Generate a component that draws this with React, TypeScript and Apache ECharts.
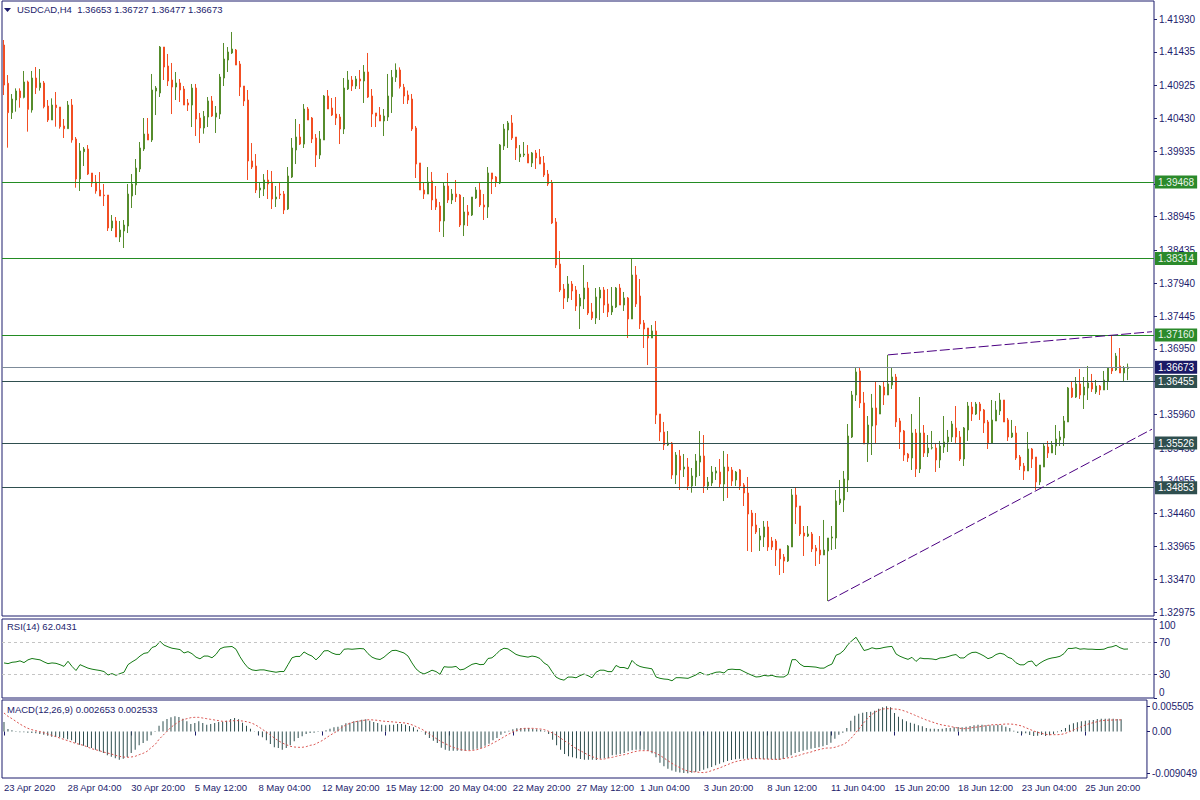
import React, { useEffect, useRef } from "react";
import * as echarts from "echarts";

// ---------- DATA (H4 bars from 23 Apr 2020 12:00) ----------
const opens = [
  1.41537,1.40959,1.40516,1.40707,1.40843,1.40747,1.40979,1.40556,1.41039,1.40893,
  1.40964,1.40616,1.40405,1.40631,1.40601,1.40314,1.40274,1.40631,1.40118,1.39514,
  1.39927,1.39967,1.39604,1.39468,1.39348,1.39272,1.39272,1.38774,1.38880,1.38638,
  1.38729,1.38804,1.39257,1.39423,1.39665,1.39967,1.40193,1.40103,1.40843,1.40813,
  1.41507,1.41220,1.41009,1.40903,1.40964,1.40873,1.40662,1.40631,1.40888,1.40435,
  1.40284,1.40450,1.40692,1.40450,1.40495,1.41039,1.41311,1.41417,1.41462,1.41250,
  1.40918,1.40707,1.39786,1.39710,1.39348,1.39363,1.39499,1.39468,1.39212,1.39287,
  1.39287,1.39061,1.39544,1.39952,1.40148,1.40042,1.40571,1.40435,1.40133,1.39876,
  1.40103,1.40767,1.40586,1.40495,1.40450,1.40269,1.40873,1.41009,1.40918,1.41024,
  1.40994,1.41130,1.40767,1.40511,1.40480,1.40390,1.40450,1.40757,1.41050,1.41160,
  1.40900,1.40782,1.40722,1.40284,1.39756,1.39348,1.39287,1.39484,1.39212,1.39106,
  1.38880,1.39408,1.39197,1.39287,1.39272,1.38819,1.39016,1.38970,1.39227,1.39348,
  1.39121,1.39091,1.39605,1.39544,1.39454,1.40012,1.40254,1.40360,1.40148,1.39846,
  1.39876,1.39891,1.39756,1.39907,1.39846,1.39756,1.39589,1.39454,1.38865,1.38230,
  1.37853,1.37717,1.37928,1.37838,1.37596,1.37702,1.37868,1.37506,1.37415,1.37717,
  1.37838,1.37627,1.37506,1.37581,1.37868,1.37611,1.37717,1.37400,1.38064,1.37747,
  1.37340,1.37264,1.37113,1.37219,1.35965,1.35693,1.35497,1.35527,1.35044,1.35331,
  1.35135,1.35165,1.34878,1.35014,1.35240,1.35331,1.34878,1.34923,1.35074,1.35089,
  1.34908,1.35165,1.35120,1.34969,1.35120,1.34893,1.34772,1.34470,1.34289,1.34063,
  1.34108,1.34259,1.34048,1.34048,1.33927,1.33806,1.33746,1.33957,1.34742,1.34576,
  1.34168,1.34123,1.34153,1.33942,1.33912,1.33836,1.33897,1.34093,1.34093,1.34621,
  1.34667,1.34969,1.35618,1.36252,1.36615,1.36132,1.35512,1.35784,1.36056,1.35965,
  1.36373,1.36252,1.36403,1.36524,1.35860,1.35709,1.35361,1.35301,1.35678,1.35135,
  1.35678,1.35377,1.35452,1.35452,1.35271,1.35467,1.35543,1.35618,1.35754,1.35618,
  1.35286,1.35724,1.36071,1.35965,1.36116,1.36026,1.35845,1.35528,1.35860,1.36011,
  1.36177,1.35875,1.35618,1.35678,1.35316,1.35180,1.35105,1.35437,1.35316,1.34939,
  1.35165,1.35467,1.35377,1.35482,1.35573,1.35603,1.35845,1.36358,1.36222,1.36419,
  1.36252,1.36358,1.36434,1.36298,1.36388,1.36328,1.36464,1.36660,1.36630,1.36690,
  1.36585,1.36653,
];
const highs = [
  1.41613,1.41084,1.40797,1.40883,1.40883,1.41145,1.40999,1.41145,1.41205,1.41175,
  1.40994,1.40707,1.40732,1.40828,1.40601,1.40420,1.40692,1.40722,1.40148,1.40057,
  1.39997,1.40027,1.39604,1.39574,1.39619,1.39438,1.39272,1.38970,1.38940,1.38880,
  1.38895,1.39438,1.39589,1.39816,1.40073,1.40435,1.40435,1.41100,1.40918,1.41522,
  1.41507,1.41402,1.41266,1.41130,1.41024,1.40918,1.40722,1.40949,1.40949,1.40511,
  1.40541,1.40752,1.40767,1.40616,1.41100,1.41568,1.41507,1.41734,1.41477,1.41296,
  1.40918,1.40858,1.40057,1.39891,1.39468,1.39589,1.39650,1.39635,1.39408,1.39453,
  1.39333,1.39695,1.40133,1.40420,1.40345,1.40646,1.40601,1.40450,1.40193,1.40239,
  1.40782,1.40858,1.40737,1.40752,1.40495,1.41039,1.41145,1.41069,1.41069,1.41160,
  1.41235,1.41417,1.40873,1.40511,1.40601,1.40571,1.41100,1.41160,1.41260,1.41200,
  1.40950,1.40850,1.40798,1.40314,1.39756,1.39454,1.39695,1.39620,1.39408,1.39167,
  1.39454,1.39605,1.39363,1.39499,1.39287,1.39242,1.39121,1.39242,1.39393,1.39469,
  1.39287,1.39695,1.39605,1.39559,1.40042,1.40345,1.40390,1.40480,1.40148,1.40027,
  1.40073,1.40027,1.39922,1.39952,1.39967,1.39861,1.39650,1.39499,1.38925,1.38427,
  1.37928,1.38049,1.37973,1.37898,1.37778,1.38215,1.37959,1.37642,1.37868,1.37883,
  1.37883,1.37853,1.37883,1.37883,1.37929,1.37808,1.37732,1.38321,1.38200,1.38004,
  1.37385,1.37264,1.37309,1.37370,1.35965,1.35845,1.35708,1.35542,1.35391,1.35422,
  1.35361,1.35301,1.35150,1.35361,1.35708,1.35648,1.35014,1.35180,1.35165,1.35286,
  1.35407,1.35361,1.35165,1.35105,1.35135,1.34923,1.35014,1.34516,1.34470,1.34244,
  1.34350,1.34350,1.34108,1.34078,1.33927,1.33851,1.33987,1.34833,1.34863,1.34576,
  1.34274,1.34274,1.34183,1.33987,1.34123,1.34365,1.34093,1.34274,1.34818,1.34969,
  1.35105,1.35814,1.36313,1.36675,1.36660,1.36298,1.35935,1.36268,1.36449,1.36403,
  1.36449,1.36858,1.36675,1.36570,1.35905,1.35724,1.35377,1.35965,1.35739,1.36222,
  1.35799,1.35648,1.35709,1.35528,1.35558,1.35935,1.35724,1.35860,1.36086,1.35709,
  1.35769,1.36147,1.36147,1.36147,1.36147,1.36041,1.35875,1.36177,1.36162,1.36283,
  1.36177,1.35905,1.35875,1.35784,1.35346,1.35226,1.35694,1.35452,1.35316,1.35195,
  1.35528,1.35558,1.35558,1.35799,1.35709,1.35935,1.36373,1.36449,1.36524,1.36645,
  1.36524,1.36690,1.36570,1.36479,1.36403,1.36615,1.36675,1.37158,1.36887,1.36962,
  1.36690,1.36727,
];
const lows = [
  1.40782,1.39987,1.40420,1.40531,1.40591,1.40732,1.40229,1.40516,1.40797,1.40848,
  1.40581,1.40375,1.40405,1.40304,1.40274,1.40133,1.40274,1.40062,1.39383,1.39333,
  1.39710,1.39574,1.39393,1.39292,1.39257,1.39106,1.38729,1.38729,1.38638,1.38562,
  1.38472,1.38698,1.39076,1.39272,1.39619,1.39937,1.40103,1.40073,1.40480,1.40752,
  1.41009,1.40918,1.40495,1.40707,1.40677,1.40631,1.40541,1.40299,1.40163,1.40057,
  1.40198,1.40299,1.40450,1.40209,1.40420,1.40918,1.41130,1.41402,1.41235,1.40767,
  1.40616,1.39499,1.39665,1.39302,1.39227,1.39257,1.39212,1.39061,1.39091,1.39212,
  1.38985,1.39046,1.39529,1.39740,1.40027,1.39982,1.40405,1.40057,1.39695,1.39816,
  1.40103,1.40571,1.40465,1.40329,1.40042,1.40193,1.40858,1.40843,1.40873,1.40873,
  1.40662,1.40737,1.40299,1.40299,1.40390,1.40163,1.40390,1.40511,1.40980,1.40880,
  1.40647,1.40647,1.40239,1.39529,1.39348,1.39212,1.39287,1.39046,1.39046,1.38714,
  1.38638,1.39152,1.39136,1.39167,1.38789,1.38653,1.38804,1.38955,1.39212,1.39091,
  1.38895,1.38925,1.39287,1.39393,1.39438,1.39952,1.39982,1.40103,1.39801,1.39771,
  1.39846,1.39756,1.39695,1.39665,1.39740,1.39544,1.39408,1.38834,1.38170,1.37808,
  1.37551,1.37656,1.37687,1.37521,1.37249,1.37551,1.37460,1.37385,1.37324,1.37385,
  1.37491,1.37430,1.37460,1.37566,1.37611,1.37521,1.37113,1.37400,1.37581,1.37249,
  1.36962,1.36705,1.37113,1.35814,1.35558,1.35422,1.35482,1.34984,1.34908,1.34818,
  1.35014,1.34818,1.34777,1.34878,1.35029,1.34772,1.34818,1.34878,1.34969,1.34863,
  1.34651,1.34697,1.34878,1.34878,1.34818,1.34576,1.33897,1.33881,1.34153,1.33897,
  1.33957,1.33897,1.33912,1.33670,1.33534,1.33564,1.33730,1.33957,1.34304,1.34123,
  1.33821,1.34108,1.33881,1.33670,1.33700,1.33836,1.33141,1.33912,1.33927,1.34591,
  1.34485,1.34787,1.35603,1.36162,1.36056,1.35512,1.35241,1.35346,1.35528,1.35965,
  1.36101,1.36252,1.36343,1.35769,1.35437,1.35256,1.35241,1.35120,1.35014,1.35074,
  1.35316,1.35316,1.35430,1.35090,1.35150,1.35377,1.35392,1.35543,1.35528,1.35256,
  1.35180,1.35558,1.35860,1.35950,1.35875,1.35678,1.35437,1.35528,1.35860,1.35950,
  1.35845,1.35558,1.35603,1.35271,1.35120,1.34969,1.35105,1.35150,1.34818,1.34893,
  1.35165,1.35301,1.35377,1.35346,1.35482,1.35482,1.35845,1.36207,1.36207,1.36192,
  1.36041,1.36177,1.36298,1.36268,1.36252,1.36328,1.36328,1.36570,1.36615,1.36585,
  1.36449,1.36477,
];
const closes = [
  1.40933,1.40516,1.40722,1.40843,1.40742,1.40979,1.40566,1.41039,1.40893,1.40964,
  1.40606,1.40405,1.40631,1.40591,1.40304,1.40274,1.40631,1.40103,1.39514,1.39937,
  1.39967,1.39589,1.39453,1.39333,1.39257,1.39262,1.38774,1.38880,1.38638,1.38744,
  1.38819,1.39287,1.39438,1.39680,1.39982,1.40193,1.40103,1.40858,1.40888,1.41507,
  1.41205,1.40994,1.40903,1.40964,1.40858,1.40631,1.40631,1.40888,1.40420,1.40284,
  1.40460,1.40692,1.40465,1.40511,1.41054,1.41326,1.41432,1.41477,1.41235,1.40903,
  1.40692,1.39786,1.39695,1.39348,1.39378,1.39499,1.39438,1.39212,1.39242,1.39272,
  1.39046,1.39559,1.39982,1.40148,1.40042,1.40571,1.40405,1.40118,1.39876,1.40118,
  1.40767,1.40571,1.40480,1.40435,1.40269,1.40888,1.41009,1.40918,1.41024,1.40994,
  1.41130,1.40752,1.40495,1.40465,1.40390,1.40465,1.40767,1.41050,1.41160,1.40910,
  1.40767,1.40707,1.40269,1.39740,1.39348,1.39287,1.39469,1.39197,1.39091,1.38880,
  1.39408,1.39197,1.39287,1.39242,1.38819,1.39016,1.38970,1.39242,1.39348,1.39121,
  1.39091,1.39605,1.39514,1.39469,1.40027,1.40269,1.40360,1.40133,1.39982,1.39891,
  1.39891,1.39756,1.39907,1.39831,1.39740,1.39574,1.39438,1.38850,1.38215,1.37838,
  1.37717,1.37928,1.37823,1.37596,1.37717,1.37868,1.37491,1.37415,1.37732,1.37838,
  1.37611,1.37506,1.37596,1.37868,1.37611,1.37717,1.37400,1.38064,1.37627,1.37324,
  1.37249,1.37113,1.37219,1.35950,1.35693,1.35497,1.35527,1.35044,1.35346,1.35120,
  1.35165,1.34878,1.35029,1.35256,1.35331,1.34878,1.34938,1.35089,1.35105,1.34908,
  1.35165,1.35105,1.34953,1.35089,1.34878,1.34772,1.34455,1.34274,1.34183,1.34123,
  1.34259,1.33957,1.33957,1.33912,1.33776,1.33746,1.33972,1.34742,1.34561,1.34153,
  1.34123,1.34153,1.33927,1.33897,1.33836,1.33912,1.34093,1.34108,1.34652,1.34682,
  1.34984,1.35633,1.36252,1.36600,1.36132,1.35512,1.35799,1.36056,1.35799,1.36388,
  1.36252,1.36419,1.36524,1.35845,1.35694,1.35346,1.35301,1.35678,1.35135,1.35678,
  1.35377,1.35452,1.35457,1.35271,1.35482,1.35543,1.35618,1.35814,1.35618,1.35286,
  1.35754,1.36086,1.35965,1.36116,1.36011,1.35830,1.35528,1.35875,1.36026,1.36177,
  1.35845,1.35618,1.35678,1.35301,1.35180,1.35105,1.35437,1.35286,1.34939,1.35195,
  1.35482,1.35377,1.35497,1.35588,1.35618,1.35860,1.36358,1.36222,1.36419,1.36252,
  1.36373,1.36434,1.36343,1.36388,1.36328,1.36479,1.36660,1.36615,1.36841,1.36585,
  1.36660,1.36673,
];

const rsiValues = [
  44.4,43.5,45.2,45.7,47.0,44.8,48.3,50.0,49.1,48.3,
  45.7,43.5,44.4,43.9,42.2,40.0,46.5,40.0,34.8,42.2,
  40.0,37.8,36.5,35.6,34.8,33.5,29.1,30.9,28.7,30.9,
  32.6,42.2,45.7,48.7,53.1,56.5,57.4,63.9,65.7,71.7,
  67.0,64.8,63.0,62.2,61.3,57.0,58.7,56.1,51.7,49.6,
  53.1,53.1,50.9,55.2,62.2,64.3,64.8,65.2,61.7,52.2,
  44.4,38.3,35.6,34.8,35.6,35.6,34.4,33.5,32.6,33.5,
  33.5,42.2,50.9,52.6,52.6,58.3,55.2,53.1,48.3,53.1,
  59.6,60.0,57.0,55.2,55.2,61.7,62.2,61.7,62.2,62.6,
  62.2,56.1,51.7,49.6,48.7,51.7,56.1,60.0,60.4,58.7,
  57.0,53.1,44.4,36.9,32.6,30.4,32.6,35.2,33.5,30.0,
  39.6,39.1,39.1,40.0,35.6,36.5,39.6,42.6,43.9,42.2,
  42.6,50.0,50.9,55.2,60.4,63.0,62.2,58.7,55.2,53.5,
  52.6,51.7,53.1,52.2,50.0,44.4,41.3,33.5,26.5,23.9,
  22.6,26.5,26.5,25.6,28.3,30.4,28.3,25.6,32.6,35.2,
  35.2,33.4,33.4,41.2,38.6,38.6,36.9,47.6,42.5,39.9,
  38.6,37.8,36.9,26.6,24.9,24.0,23.6,21.8,25.7,25.7,
  25.3,24.9,27.0,29.2,32.6,30.0,29.2,30.9,32.6,33.0,
  31.7,36.0,36.5,36.0,36.0,33.4,30.9,28.7,26.6,27.0,
  28.7,27.9,28.7,27.0,26.6,26.6,30.0,48.5,48.5,42.9,
  39.9,39.9,39.5,39.1,37.8,37.8,40.8,43.0,54.1,56.2,
  60.5,67.8,72.6,76.9,68.7,60.1,61.4,63.6,62.3,62.7,
  64.0,64.8,65.3,55.8,52.8,50.7,48.9,51.5,46.3,50.7,
  49.8,49.8,49.4,48.5,50.7,51.1,52.4,54.1,55.0,50.7,
  50.7,55.0,57.6,58.0,55.8,53.2,49.8,51.5,55.0,56.7,
  55.4,51.5,49.8,44.6,42.0,42.0,45.9,46.8,40.3,44.2,
  47.2,49.4,50.7,51.5,52.8,56.2,62.7,62.7,63.6,61.8,
  62.3,61.8,61.8,61.4,61.4,61.8,64.0,64.8,66.6,63.6,
  61.8,62.0431,
];

const macdHist = [
  0.00207,0.00054,0.00025,0.00011,-0.00018,-0.00018,-0.00025,-0.00033,-0.00040,-0.00054,
  -0.00069,-0.00091,-0.00112,-0.00120,-0.00127,-0.00149,-0.00170,-0.00192,-0.00243,-0.00286,
  -0.00308,-0.00337,-0.00359,-0.00395,-0.00431,-0.00467,-0.00518,-0.00547,-0.00583,-0.00612,
  -0.00591,-0.00554,-0.00467,-0.00395,-0.00301,-0.00250,-0.00199,-0.00083,0.00011,0.00127,
  0.00221,0.00272,0.00308,0.00330,0.00315,0.00279,0.00221,0.00163,0.00185,0.00221,
  0.00185,0.00149,0.00163,0.00185,0.00207,0.00214,0.00236,0.00272,0.00293,0.00264,
  0.00192,0.00127,0.00062,0.00004,-0.00069,-0.00127,-0.00192,-0.00272,-0.00344,-0.00359,
  -0.00395,-0.00359,-0.00301,-0.00214,-0.00141,-0.00105,-0.00054,-0.00033,-0.00025,-0.00011,
  0.00004,0.00025,0.00062,0.00091,0.00105,0.00134,0.00178,0.00192,0.00221,0.00236,
  0.00257,0.00264,0.00236,0.00207,0.00185,0.00149,0.00134,0.00149,0.00149,0.00163,
  0.00163,0.00149,0.00120,0.00091,0.00040,0.00004,-0.00069,-0.00141,-0.00199,-0.00250,
  -0.00351,-0.00395,-0.00417,-0.00417,-0.00417,-0.00417,-0.00417,-0.00402,-0.00395,-0.00373,
  -0.00359,-0.00308,-0.00264,-0.00192,-0.00141,-0.00069,-0.00025,0.00018,0.00047,0.00069,
  0.00076,0.00076,0.00076,0.00062,0.00047,0.00040,0.00018,-0.00054,-0.00178,-0.00301,
  -0.00395,-0.00489,-0.00540,-0.00562,-0.00583,-0.00598,-0.00612,-0.00612,-0.00612,-0.00620,
  -0.00591,-0.00583,-0.00576,-0.00518,-0.00504,-0.00489,-0.00467,-0.00431,-0.00409,-0.00395,
  -0.00395,-0.00395,-0.00417,-0.00475,-0.00562,-0.00678,-0.00757,-0.00808,-0.00850,-0.00875,
  -0.00890,-0.00900,-0.00905,-0.00895,-0.00880,-0.00859,-0.00830,-0.00801,-0.00772,-0.00736,
  -0.00699,-0.00670,-0.00641,-0.00620,-0.00605,-0.00591,-0.00591,-0.00591,-0.00591,-0.00598,
  -0.00598,-0.00605,-0.00605,-0.00605,-0.00612,-0.00620,-0.00598,-0.00562,-0.00518,-0.00467,
  -0.00446,-0.00417,-0.00395,-0.00373,-0.00359,-0.00344,-0.00322,-0.00293,-0.00243,-0.00156,
  -0.00069,-0.00025,0.00076,0.00236,0.00344,0.00388,0.00409,0.00424,0.00431,0.00453,
  0.00496,0.00530,0.00550,0.00525,0.00402,0.00322,0.00264,0.00221,0.00192,0.00170,
  0.00134,0.00112,0.00076,0.00062,0.00062,0.00054,0.00062,0.00076,0.00076,0.00091,
  0.00098,0.00091,0.00105,0.00120,0.00134,0.00149,0.00149,0.00134,0.00134,0.00134,
  0.00149,0.00134,0.00105,0.00076,0.00018,-0.00033,-0.00047,-0.00040,-0.00076,-0.00098,
  -0.00091,-0.00076,-0.00098,-0.00083,-0.00054,-0.00018,0.00033,0.00076,0.00149,0.00178,
  0.00199,0.00221,0.00236,0.00243,0.00250,0.00272,0.00279,0.00279,0.00285,0.00280,
  0.00272,0.002653,
];

const macdSignal = [
  0.00402,0.00330,0.00279,0.00221,0.00163,0.00112,0.00069,0.00040,0.00018,-0.00004,
  -0.00025,-0.00054,-0.00083,-0.00112,-0.00141,-0.00170,-0.00199,-0.00228,-0.00257,-0.00279,
  -0.00301,-0.00337,-0.00373,-0.00395,-0.00417,-0.00446,-0.00467,-0.00489,-0.00518,-0.00540,
  -0.00554,-0.00562,-0.00554,-0.00540,-0.00504,-0.00475,-0.00431,-0.00351,-0.00286,-0.00170,
  -0.00083,0.00004,0.00091,0.00156,0.00214,0.00257,0.00279,0.00301,0.00308,0.00308,
  0.00293,0.00279,0.00264,0.00250,0.00236,0.00221,0.00221,0.00228,0.00236,0.00236,
  0.00228,0.00214,0.00192,0.00156,0.00105,0.00047,-0.00011,-0.00076,-0.00141,-0.00199,
  -0.00250,-0.00286,-0.00322,-0.00337,-0.00344,-0.00344,-0.00330,-0.00301,-0.00286,-0.00243,
  -0.00199,-0.00141,-0.00083,-0.00033,0.00018,0.00091,0.00141,0.00178,0.00207,0.00221,
  0.00236,0.00250,0.00257,0.00250,0.00243,0.00228,0.00221,0.00214,0.00207,0.00199,
  0.00192,0.00185,0.00163,0.00134,0.00091,0.00054,0.00004,-0.00054,-0.00112,-0.00170,
  -0.00221,-0.00264,-0.00308,-0.00344,-0.00373,-0.00395,-0.00409,-0.00417,-0.00409,-0.00395,
  -0.00366,-0.00337,-0.00301,-0.00250,-0.00207,-0.00156,-0.00105,-0.00054,-0.00011,0.00025,
  0.00054,0.00069,0.00069,0.00069,0.00062,0.00054,0.00040,0.00004,-0.00033,-0.00083,
  -0.00141,-0.00206,-0.00250,-0.00322,-0.00373,-0.00417,-0.00467,-0.00511,-0.00547,-0.00583,
  -0.00605,-0.00598,-0.00576,-0.00562,-0.00540,-0.00518,-0.00504,-0.00482,-0.00453,-0.00431,
  -0.00417,-0.00417,-0.00417,-0.00438,-0.00475,-0.00518,-0.00576,-0.00634,-0.00692,-0.00743,
  -0.00786,-0.00830,-0.00859,-0.00873,-0.00880,-0.00888,-0.00895,-0.00880,-0.00851,-0.00822,
  -0.00793,-0.00757,-0.00721,-0.00685,-0.00656,-0.00634,-0.00620,-0.00605,-0.00591,-0.00591,
  -0.00591,-0.00598,-0.00598,-0.00605,-0.00605,-0.00605,-0.00591,-0.00576,-0.00562,-0.00540,
  -0.00518,-0.00489,-0.00467,-0.00446,-0.00417,-0.00395,-0.00373,-0.00359,-0.00359,-0.00344,
  -0.00315,-0.00286,-0.00236,-0.00156,-0.00054,0.00054,0.00163,0.00264,0.00351,0.00417,
  0.00460,0.00489,0.00496,0.00496,0.00489,0.00482,0.00460,0.00431,0.00395,0.00359,
  0.00322,0.00286,0.00250,0.00221,0.00192,0.00163,0.00141,0.00127,0.00112,0.00091,
  0.00076,0.00062,0.00062,0.00076,0.00091,0.00098,0.00112,0.00127,0.00141,0.00149,
  0.00149,0.00156,0.00163,0.00163,0.00156,0.00141,0.00120,0.00083,0.00047,0.00011,
  -0.00018,-0.00040,-0.00062,-0.00069,-0.00069,-0.00069,-0.00062,-0.00040,-0.00004,0.00033,
  0.00069,0.00105,0.00141,0.00170,0.00192,0.00214,0.00236,0.00243,0.00248,0.00250,
  0.00252,0.002533,
];

const timeLabels = [
  "23 Apr 2020", "28 Apr 04:00", "30 Apr 20:00", "5 May 12:00", "8 May 04:00",
  "12 May 20:00", "15 May 12:00", "20 May 04:00", "22 May 20:00", "27 May 12:00",
  "1 Jun 04:00", "3 Jun 20:00", "8 Jun 12:00", "11 Jun 04:00", "15 Jun 20:00",
  "18 Jun 12:00", "23 Jun 04:00", "25 Jun 20:00",
];
const barsPerLabel = 16;
const slotCount = 288; // bars + empty right shift

const priceTicks = [
  1.4193, 1.41435, 1.40925, 1.4043, 1.39935, 1.3944, 1.38945, 1.38435, 1.3794,
  1.37445, 1.3695, 1.36455, 1.3596, 1.3545, 1.34955, 1.3446, 1.33965, 1.3347, 1.32975,
];
const rsiTicks = [100, 70, 30, 0];
const rsiLevels = [70, 30];
const macdTicks = [0.005505, 0, -0.009049];

const levelPrices = [1.39468, 1.38314, 1.3716, 1.36673, 1.36455, 1.35526, 1.34853];
const levelKinds = ["green", "green", "green", "bid", "slate", "slate", "slate"];
const upperTrend = [[221, 1.36858], [287, 1.37208]];
const lowerTrend = [[206, 1.33141], [287, 1.35736]];

const header = "USDCAD,H4  1.36653 1.36727 1.36477 1.36673";
const rsiTitle = "RSI(14) 62.0431";
const macdTitle = "MACD(12,26,9) 0.002653 0.002533";

// ---------- STYLE ----------
const FONT = "'Liberation Sans', Arial, sans-serif";
const NAVY = "#1c1c6c";
const UP = "#568c2c";
const DOWN = "#f24e23";
const levelStyle: Record<string, { line: string; box: string; text: string }> = {
  green: { line: "#238c23", box: "#2b8a2b", text: "#eaf4ea" },
  bid: { line: "#7d8b99", box: "#1a1a66", text: "#ffffff" },
  slate: { line: "#2f4f4f", box: "#2f4f4f", text: "#ffffff" },
};

export default function App() {
  const ref = useRef<HTMLDivElement>(null);

  useEffect(() => {
    if (!ref.current) return;
    const chart = echarts.init(ref.current, null, { renderer: "svg" });
    const categories = Array.from({ length: slotCount }, (_, i) => String(i));
    const candleData = opens.map((o, i) => [o, closes[i], lows[i], highs[i]]);

    // one helper series per horizontal level so each markLine keeps its own value & style
    const levelSeries = levelPrices.map((p, i) => {
      const st = levelStyle[levelKinds[i]];
      return {
        type: "line",
        xAxisIndex: 0,
        yAxisIndex: 0,
        data: [],
        symbol: "none",
        silent: true,
        z: 4,
        markLine: {
          silent: true,
          precision: 5,
          symbol: ["none", "none"],
          animation: false,
          lineStyle: { color: st.line, width: 1, type: "solid" },
          label: {
            show: true,
            position: "end",
            distance: 1,
            formatter: () => p.toFixed(5),
            backgroundColor: st.box,
            color: st.text,
            padding: [2, 3, 1, 3],
            fontSize: 10,
            fontFamily: FONT,
          },
          data: [{ yAxis: p }],
        },
      };
    });

    const trendStyle = { color: "#4b0082", width: 1, type: [10, 3] };
    const trendMarks = [upperTrend, lowerTrend].map((t) => [
      { coord: t[0] },
      { coord: t[1] },
    ]);

    const baseX = {
      type: "category",
      data: categories,
      boundaryGap: true,
      axisLine: { show: false },
      axisTick: { show: false },
      axisLabel: { show: false },
      splitLine: { show: false },
    };
    const labelStyle = { color: NAVY, fontSize: 10, fontFamily: FONT };
    const gridStyle = { show: true, borderColor: NAVY, borderWidth: 1, backgroundColor: "#fff" };
    const showTick = (index: number) =>
      index % barsPerLabel === 0 && index / barsPerLabel < timeLabels.length;

    const option: any = {
      animation: false,
      backgroundColor: "#ffffff",
      grid: [
        { left: 2, top: 1, width: 1152, height: 615, ...gridStyle },
        { left: 2, top: 619, width: 1152, height: 79, ...gridStyle },
        { left: 2, top: 700, width: 1152, height: 78, ...gridStyle },
      ],
      xAxis: [
        { ...baseX, gridIndex: 0 },
        { ...baseX, gridIndex: 1 },
        {
          ...baseX,
          gridIndex: 2,
          axisTick: {
            show: true,
            interval: showTick,
            alignWithLabel: true,
            length: 4,
            lineStyle: { color: NAVY },
          },
          axisLabel: {
            show: true,
            interval: showTick,
            formatter: (_v: string, index: number) => timeLabels[index / barsPerLabel] ?? "",
            align: "left",
            margin: 4,
            color: NAVY,
            fontSize: 9.5,
            fontFamily: FONT,
          },
        },
      ],
      yAxis: [
        {
          type: "value",
          gridIndex: 0,
          position: "right",
          min: 1.32915,
          max: 1.42202,
          axisLine: { show: false },
          splitLine: { show: false },
          axisTick: { show: true, length: 3, lineStyle: { color: NAVY }, customValues: priceTicks },
          axisLabel: {
            ...labelStyle,
            margin: 5,
            customValues: priceTicks,
            formatter: (v: number) => v.toFixed(5),
          },
        },
        {
          type: "value",
          gridIndex: 1,
          position: "right",
          min: 0,
          max: 100,
          axisLine: { show: false },
          splitLine: { show: false },
          axisTick: { show: true, length: 3, lineStyle: { color: NAVY }, customValues: rsiTicks },
          axisLabel: {
            ...labelStyle,
            margin: 5,
            customValues: rsiTicks,
            formatter: (v: number) => (v === 100 ? "{t|100}" : v === 0 ? "{b|0}" : String(v)),
            rich: {
              t: { ...labelStyle, padding: [12, 0, 0, 0] },
              b: { ...labelStyle, padding: [0, 0, 12, 0] },
            },
          },
        },
        {
          type: "value",
          gridIndex: 2,
          position: "right",
          min: -0.01011,
          max: 0.00685,
          axisLine: { show: false },
          splitLine: { show: false },
          axisTick: { show: true, length: 3, lineStyle: { color: NAVY }, customValues: macdTicks },
          axisLabel: {
            ...labelStyle,
            margin: 5,
            customValues: macdTicks,
            formatter: (v: number) => (v === 0 ? "0.00" : v.toFixed(6)),
          },
        },
      ],
      series: [
        ...levelSeries,
        {
          type: "candlestick",
          xAxisIndex: 0,
          yAxisIndex: 0,
          data: candleData,
          barWidth: 2,
          itemStyle: {
            color: UP,
            color0: DOWN,
            borderColor: UP,
            borderColor0: DOWN,
            borderWidth: 1,
          },
          markLine: {
            silent: true,
            precision: 5,
            symbol: ["none", "none"],
            animation: false,
            lineStyle: trendStyle,
            label: { show: false },
            data: trendMarks,
          },
          z: 3,
        },
        {
          type: "line",
          xAxisIndex: 1,
          yAxisIndex: 1,
          data: rsiValues,
          symbol: "none",
          lineStyle: { color: "#157a15", width: 1 },
          markLine: {
            silent: true,
            symbol: ["none", "none"],
            label: { show: false },
            lineStyle: { color: "#c4c4c4", width: 1, type: [3, 3] },
            data: rsiLevels.map((v) => ({ yAxis: v })),
          },
        },
        {
          type: "bar",
          xAxisIndex: 2,
          yAxisIndex: 2,
          data: macdHist,
          barWidth: 1,
          itemStyle: { color: "#2f4f4f" },
        },
        {
          type: "line",
          xAxisIndex: 2,
          yAxisIndex: 2,
          data: macdSignal,
          symbol: "none",
          lineStyle: { color: "#d9534f", width: 1, type: [2, 2] },
        },
      ],
      graphic: [
        {
          type: "polygon",
          shape: { points: [[4, 8], [11, 8], [7.5, 12]] },
          style: { fill: NAVY },
        },
        {
          type: "text",
          left: 17,
          top: 4,
          style: { text: header, fill: NAVY, font: `9.5px ${FONT}` },
        },
        {
          type: "text",
          left: 7,
          top: 621,
          style: { text: rsiTitle, fill: NAVY, font: `9.5px ${FONT}` },
        },
        {
          type: "text",
          left: 7,
          top: 704,
          style: { text: macdTitle, fill: NAVY, font: `9.5px ${FONT}` },
        },
      ],
    };
    chart.setOption(option);
    return () => chart.dispose();
  }, []);

  return (
    <div
      ref={ref}
      style={{ position: "fixed", left: 0, top: 0, width: 1200, height: 800, background: "#fff" }}
    />
  );
}
